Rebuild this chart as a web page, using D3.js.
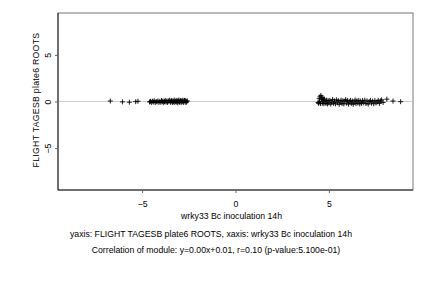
<!DOCTYPE html>
<html>
<head>
<meta charset="utf-8">
<script src="https://cdn.jsdelivr.net/npm/d3@7"></script>
<style>
  body { margin: 0; background: #fff; }
  svg text { font-family: "Liberation Sans", Arial, sans-serif; fill: #000; }
</style>
</head>
<body>
<svg id="chart" width="432" height="288"></svg>
<script>
// values
const xTicks = [-5, 0, 5];
const yTicks = [-5, 0, 5];
const xLabel = 'wrky33 Bc inoculation 14h';
const yLabel = 'FLIGHT TAGESB plate6 ROOTS';
const subtitle = 'yaxis: FLIGHT TAGESB plate6 ROOTS, xaxis: wrky33 Bc inoculation 14h';
const corrText = 'Correlation of module: y=0.00x+0.01, r=0.10 (p-value:5.100e-01)';

// left cluster (x, y)
const leftX = [-6.7, -6.05, -5.68, -5.34, -5.22,
  -4.6, -4.55, -4.5, -4.45, -4.4, -4.35, -4.3, -4.25, -4.2, -4.15, -4.1, -4.05,
  -4.0, -3.96, -3.92, -3.88, -3.84, -3.8, -3.76, -3.72, -3.68, -3.64, -3.6,
  -3.56, -3.52, -3.48, -3.45, -3.42, -3.38, -3.35, -3.32, -3.28, -3.25, -3.22,
  -3.18, -3.15, -3.12, -3.09, -3.06, -3.03, -3.0, -2.97, -2.94, -2.91, -2.88,
  -2.85, -2.82, -2.79, -2.76, -2.73, -2.7, -2.67, -2.64, -2.61, -2.58];
const leftY = [0.05, -0.04, -0.08, -0.02, 0.03,
  -0.05, 0.02, -0.1, 0.04, -0.06, 0.08, -0.12, 0.0, -0.04, 0.06, -0.1, 0.02,
  -0.08, 0.1, -0.03, 0.05, -0.14, 0.0, 0.12, -0.06, 0.04, -0.1, 0.08,
  -0.02, 0.14, -0.08, 0.02, 0.1, -0.12, 0.06, -0.04, 0.15, -0.1, 0.0,
  0.12, -0.06, 0.08, -0.14, 0.04, 0.16, -0.08, 0.02, 0.1, -0.12, 0.06,
  -0.02, 0.14, -0.1, 0.04, 0.12, -0.06, 0.08, -0.1, 0.02, 0.06];

// right cluster (x, y)
const rightX = [4.42, 4.45, 4.48, 4.5, 4.52, 4.55, 4.57, 4.6, 4.62, 4.65, 4.68,
  4.7, 4.73, 4.76, 4.8, 4.84, 4.88, 4.92, 4.96, 5.0, 5.05, 5.1, 5.15, 5.2,
  5.25, 5.3, 5.35, 5.4, 5.45, 5.5, 5.55, 5.6, 5.65, 5.7, 5.75, 5.8, 5.85,
  5.9, 5.95, 6.0, 6.05, 6.1, 6.15, 6.2, 6.25, 6.3, 6.35, 6.4, 6.45, 6.5,
  6.55, 6.6, 6.65, 6.7, 6.75, 6.8, 6.86, 6.92, 6.98, 7.04, 7.1, 7.16, 7.22,
  7.28, 7.34, 7.4, 7.46, 7.52, 7.58, 7.64, 7.7, 7.76, 7.82, 7.9, 8.1, 8.43, 8.84];
const rightY = [-0.1, -0.2, 0.3, -0.05, 0.5, -0.22, 0.65, 0.2, 0.45, -0.18, 0.35,
  0.1, -0.24, 0.25, -0.05, -0.2, 0.15, -0.26, 0.08, -0.15, 0.12, -0.28, -0.08, 0.22,
  -0.2, 0.06, -0.25, 0.18, -0.14, 0.1, -0.3, -0.05, 0.14, -0.22, 0.08, -0.26, 0.04,
  0.2, -0.18, 0.1, -0.28, -0.02, 0.12, -0.2, 0.06, -0.3, -0.05, 0.16, -0.22, 0.08,
  -0.16, 0.12, -0.26, 0.04, -0.2, 0.1, -0.14, 0.14, -0.22, 0.06, -0.28, -0.02,
  0.12, -0.18, 0.04, -0.24, 0.1, -0.16, -0.05, 0.12, -0.2, 0.06, 0.18, -0.1, 0.25, 0.05, -0.02];

const points = leftX.map((x, i) => ({x, y: leftY[i]}))
  .concat(rightX.map((x, i) => ({x, y: rightY[i]})));

//------------------------------------------------------------------------------

const svg = d3.select('#chart');
const plot = {left: 58, right: 413, top: 13, bottom: 190};
const fontSize = 8.7;

const x = d3.scaleLinear().domain([-9.5, 9.5]).range([plot.left, plot.right]);
const y = d3.scaleLinear().domain([-9.5, 9.5]).range([plot.bottom, plot.top]);

// frame
svg.append('rect')
  .attr('x', plot.left).attr('y', plot.top)
  .attr('width', plot.right - plot.left).attr('height', plot.bottom - plot.top)
  .attr('fill', 'none').attr('stroke', '#777').attr('stroke-width', 1);

// zero line
svg.append('line')
  .attr('x1', plot.left).attr('x2', plot.right)
  .attr('y1', y(0)).attr('y2', y(0))
  .attr('stroke', '#ccc').attr('stroke-width', 1);

const xAxis = svg.append('g')
  .attr('transform', `translate(0,${plot.bottom})`)
  .call(d3.axisBottom(x).tickValues(xTicks).tickSize(3).tickPadding(8)
    .tickFormat(d3.format('d')));
const yAxis = svg.append('g')
  .attr('transform', `translate(${plot.left},0)`)
  .call(d3.axisLeft(y).tickValues(yTicks).tickSize(3).tickFormat(d3.format('d')));

[xAxis, yAxis].forEach(g => {
  g.select('.domain').attr('stroke', '#222');
  g.selectAll('.tick line').attr('stroke', '#666');
  g.selectAll('.tick text').attr('font-size', fontSize)
    .attr('font-family', '"Liberation Sans", Arial, sans-serif')
    .attr('fill', '#000');
});
xAxis.selectAll('.domain').attr('d', `M${plot.left},0H${plot.right}`);
yAxis.selectAll('.domain').attr('d', `M0,${plot.top}V${plot.bottom}`);
// R-style rotated y tick labels
yAxis.selectAll('.tick text')
  .attr('x', null).attr('dy', null)
  .attr('text-anchor', 'middle')
  .attr('transform', 'translate(-7,0) rotate(-90)');

// points as "+"
svg.append('g').selectAll('path.pt')
  .data(points)
  .join('path')
  .attr('class', 'pt')
  .attr('transform', d => `translate(${x(d.x)},${y(d.y)})`)
  .attr('d', 'M-2.5,0H2.5M0,-2.5V2.5')
  .attr('stroke', '#000').attr('stroke-width', 0.9).attr('fill', 'none');

// labels
svg.append('text')
  .attr('x', (plot.left + plot.right) / 2 - 4).attr('y', 219)
  .attr('text-anchor', 'middle').attr('font-size', fontSize).text(xLabel);
svg.append('text')
  .attr('transform', `translate(39,100) rotate(-90)`)
  .attr('text-anchor', 'middle').attr('font-size', fontSize)
  .attr('letter-spacing', 0.3).text(yLabel);
svg.append('text')
  .attr('x', 211).attr('y', 236.5)
  .attr('text-anchor', 'middle').attr('font-size', fontSize).text(subtitle);
svg.append('text')
  .attr('x', 216).attr('y', 253)
  .attr('text-anchor', 'middle').attr('font-size', fontSize).text(corrText);
</script>
</body>
</html>
